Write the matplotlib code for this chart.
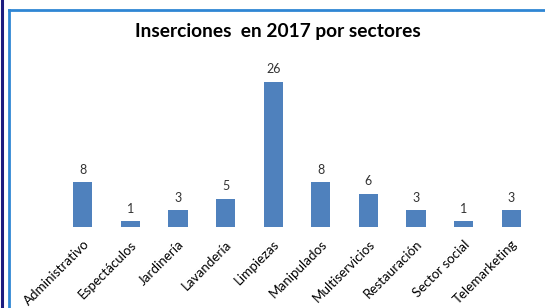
import numpy as np
import matplotlib.pyplot as plt
from matplotlib.lines import Line2D

# datos
sectores = ['Administrativo', 'Espectáculos', 'Jardinería', 'Lavandería', 'Limpiezas',
            'Manipulados', 'Multiservicios', 'Restauración', 'Sector social', 'Telemarketing']
inserciones = [8, 1, 3, 5, 26, 8, 6, 3, 1, 3]

plt.rcParams['font.family'] = ['Lato', 'DejaVu Sans']

fig = plt.figure(figsize=(5.45, 3.08), dpi=100)
fig.patch.set_facecolor('white')

# marco del gráfico
fig.add_artist(Line2D([0.003, 0.003], [0, 1], color='#1c1c80', lw=2.2, transform=fig.transFigure))
fig.add_artist(Line2D([0.0165, 0.0165], [0, 0.969], color='#2f86d4', lw=2.0, transform=fig.transFigure))
fig.add_artist(Line2D([0.0165, 1], [0.969, 0.969], color='#2f86d4', lw=2.0, transform=fig.transFigure))

ax = fig.add_axes([59 / 545, 1 - 227 / 308, (535 - 59) / 545, (227 - 59.6) / 308])
x = np.arange(len(sectores))
bars = ax.bar(x, inserciones, width=0.4, color='#4f81bd')

for xi, v in zip(x, inserciones):
    ax.text(xi, v + 1.2, str(v), ha='center', va='bottom', fontsize=9, color='#333333')

ax.set_xlim(-0.5, len(sectores) - 0.5)
ax.set_ylim(0, 30)
ax.set_xticks(x)
ax.set_xticklabels(sectores, rotation=45, ha='right', rotation_mode='anchor', fontsize=9.6)
ax.tick_params(axis='x', length=0, pad=8)
ax.set_yticks([])
for s in ax.spines.values():
    s.set_visible(False)

fig.text(0.509, 1 - 32 / 308, 'Inserciones  en 2017 por sectores', ha='center', va='center',
         fontsize=13.8, fontweight='bold', color='black')

fig.savefig('out.png', dpi=100)
